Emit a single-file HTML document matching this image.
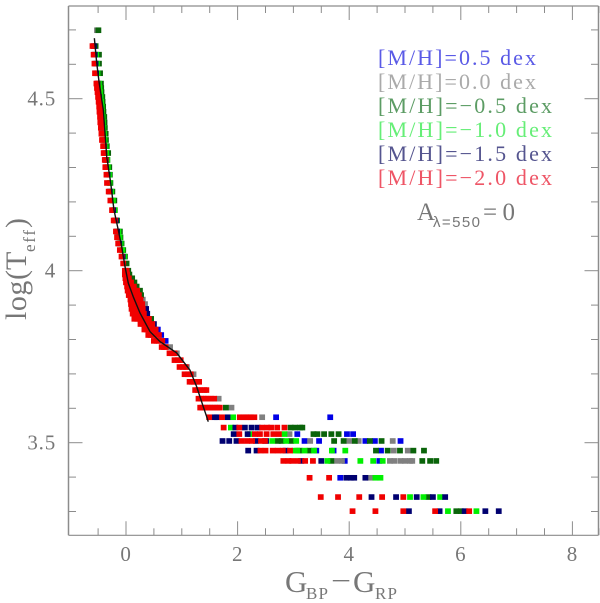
<!DOCTYPE html>
<html>
<head>
<meta charset="utf-8">
<title>log(Teff) vs colour</title>
<style>
html,body{margin:0;padding:0;background:#fff;width:600px;height:603px;overflow:hidden}
svg{display:block}
text{font-family:"Liberation Serif",serif}
</style>
</head>
<body>
<svg id="chart" width="600" height="603" viewBox="0 0 600 603" xmlns="http://www.w3.org/2000/svg">
<g id="marks"></g>
<g id="isochrone"></g>
<g id="axes"></g>
<g id="ticklabels" font-size="21" fill="#777" letter-spacing="0.8"></g>
<g fill="#777">
<text x="285" y="592" font-size="31">G</text>
<text x="306" y="599" font-size="17" textLength="22">BP</text>
<text x="331" y="590" font-size="28" textLength="20" lengthAdjust="spacingAndGlyphs">−</text>
<text x="353" y="592" font-size="31">G</text>
<text x="375" y="599" font-size="17" textLength="22">RP</text>
</g>
<g fill="#777" transform="translate(26,320) rotate(-90)">
<text x="0" y="0" font-size="30" textLength="50">log(</text>
<text x="50" y="0" font-size="30">T</text>
<text x="68" y="9" font-size="17" textLength="22">eff</text>
<text x="92" y="0" font-size="30">)</text>
</g>
<g font-size="22">
<text x="378" y="65" fill="#5a5ae6" textLength="158">[M/H]=0.5 dex</text>
<text x="378" y="89" fill="#aaaaaa" textLength="158">[M/H]=0.0 dex</text>
<text x="378" y="113" fill="#5c9c64" textLength="174">[M/H]=−0.5 dex</text>
<text x="378" y="137" fill="#66ee77" textLength="174">[M/H]=−1.0 dex</text>
<text x="378" y="161" fill="#55558f" textLength="174">[M/H]=−1.5 dex</text>
<text x="378" y="185" fill="#ee5566" textLength="174">[M/H]=−2.0 dex</text>
</g>
<g fill="#777">
<text x="417" y="220" font-size="25">A</text>
<text x="433" y="227" font-size="15" textLength="47" style="font-family:'Liberation Sans',sans-serif">λ=550</text>
<text x="483" y="220" font-size="25" textLength="32">=0</text>
</g>
</svg>
<script>
// Per-metallicity data: each row is [logTeff, colour, colour, ...]
const rowsBlue = [
[3.829,0.57],[3.813,0.63],[3.796,0.71],
[3.574,2.69,3.66],[3.525,3.07,3.96,4.07],[3.505,3.20,3.46,4.29,4.46,4.92],
[3.477,3.41,3.72,4.57],[3.447,3.92,4.54],[3.398,3.84]
];
const rowsGray = [
[4.699,-0.52],[3.903,0.34],[3.916,0.30],[3.778,0.79],[3.76,0.91],[3.72,1.09],[3.699,1.21],
[3.628,1.66],[3.602,1.89],[3.574,2.44],[3.525,2.93],[3.505,3.30,4.00,4.17,4.78],
[3.477,4.80,5.05],[3.447,3.78,3.87,4.73,4.81,4.92,5.00,5.09,5.13],[3.398,4.38]
];
const rowsGreen = [
[4.699,-0.495],[4.653,-0.545],[4.628,-0.485],[4.602,-0.485],[4.574,-0.465],[4.544,-0.45],[4.531,-0.445],[4.519,-0.44],[4.505,-0.425],[4.491,-0.42],[4.477,-0.41],[4.462,-0.405],[4.447,-0.39],[4.431,-0.385],[4.415,-0.38],[4.398,-0.365],[4.38,-0.36],[4.362,-0.345],[4.342,-0.32],[4.322,-0.335],[4.301,-0.30],[4.279,-0.29],[4.255,-0.28],[4.23,-0.245],[4.204,-0.21],[4.176,-0.20],[4.146,-0.16],[4.114,-0.11],[4.097,-0.10],[4.079,-0.08],[4.06,-0.05],[4.041,-0.02],[4.021,0.01],[4.0,0.04],[3.989,0.06],[3.978,0.11],[3.966,0.15],[3.954,0.19],[3.942,0.25],[3.929,0.27],[3.86,0.45],
[3.602,1.79],[3.544,2.95,3.03,3.12,3.16],[3.525,3.36,3.43,3.55,3.68,3.81],
[3.505,2.72,2.79,2.96,3.73,3.90,4.10,4.37,4.58],
[3.477,3.11,3.29,4.48,4.69,4.91,5.15,5.34],[3.447,3.68,5.31,5.45,5.56],
[3.342,5.42],[3.301,5.92,6.00]
];
const rowsLime = [
[4.628,-0.535],[4.602,-0.52],[4.574,-0.51],[4.544,-0.485],[4.531,-0.475],[4.519,-0.465],[4.505,-0.455],[4.491,-0.445],[4.477,-0.435],[4.462,-0.43],[4.447,-0.42],[4.431,-0.415],[4.415,-0.405],[4.398,-0.395],[4.38,-0.385],[4.362,-0.365],[4.342,-0.355],[4.322,-0.335],[4.301,-0.325],[4.279,-0.305],[4.255,-0.295],[4.23,-0.265],[4.204,-0.235],[4.176,-0.205],[4.146,-0.175],[4.114,-0.135],[4.097,-0.115],[4.079,-0.095],[4.06,-0.065],[4.041,-0.035],
[3.574,1.92],[3.544,1.88],[3.525,2.22,2.84],[3.505,2.62,2.87,3.05],
[3.477,3.02,3.07,3.20,3.37,3.69,3.93],[3.447,3.61,4.20,4.43,4.60],[3.398,4.47,4.56],
[3.342,5.09,5.33,5.63],[3.301,5.77,6.28]
];
const rowsNavy = [
[4.653,-0.575],[4.628,-0.56],[4.602,-0.545],[4.574,-0.535],[4.544,-0.51],[4.505,-0.48],[4.462,-0.455],[4.415,-0.43],[4.362,-0.39],[4.322,-0.36],[4.279,-0.33],[4.23,-0.29],[4.176,-0.23],[4.146,-0.18],[4.114,-0.16],[4.079,-0.12],[4.041,-0.06],
[3.889,0.36],[3.875,0.38],[3.845,0.50],
[3.574,1.59,1.63,1.82],[3.544,1.96,2.13,2.25,2.36],[3.525,1.93,2.18],
[3.505,1.73,1.85,1.98,2.33,2.51],[3.477,2.19,2.34,2.86],[3.447,3.14,3.50],
[3.398,3.95,4.03,4.09,4.29],[3.342,4.40,4.84,5.21,5.50,5.72],[3.301,5.07,5.62,6.07,6.44,6.68]
];
const rowsRed = [
[4.653,-0.60],[4.628,-0.58],[4.602,-0.565],[4.574,-0.555],[4.544,-0.53,-0.515],[4.531,-0.52,-0.505],[4.519,-0.51,-0.495],[4.505,-0.50,-0.485],[4.491,-0.49,-0.475],[4.477,-0.48,-0.465],[4.462,-0.475,-0.46],[4.447,-0.465,-0.45],[4.431,-0.46,-0.445],[4.415,-0.45,-0.435],[4.398,-0.44,-0.425],[4.38,-0.43,-0.415],[4.362,-0.41,-0.395],[4.342,-0.40,-0.385],[4.322,-0.38,-0.365],[4.301,-0.37,-0.355],[4.279,-0.35],[4.255,-0.34],[4.23,-0.31],[4.204,-0.28],[4.176,-0.25],[4.146,-0.22,-0.20],[4.114,-0.18],[4.097,-0.16],[4.079,-0.14],[4.06,-0.11],[4.041,-0.08],[4.021,-0.05],
[4.0,-0.02,0.01],[3.989,-0.02,0.02],[3.978,-0.01,0.05],[3.966,0.00,0.05,0.09],[3.954,0.02,0.06,0.09,0.14],[3.942,0.03,0.07,0.11,0.16,0.20],[3.929,0.05,0.10,0.14,0.19,0.23],[3.916,0.08,0.12,0.16,0.21,0.26],[3.903,0.09,0.14,0.18,0.24,0.29],[3.889,0.10,0.15,0.20,0.25,0.30],[3.875,0.12,0.17,0.21,0.27,0.32],[3.86,0.15,0.20,0.25,0.30,0.36,0.41],[3.845,0.26,0.31,0.36,0.42,0.47],[3.829,0.33,0.37,0.41,0.47,0.53],[3.813,0.40,0.44,0.48,0.54,0.59],[3.796,0.50,0.55,0.59,0.65],[3.778,0.64,0.68,0.71],[3.76,0.78,0.83,0.87],[3.74,0.87,0.93,0.98],[3.72,0.96,1.02,1.07],[3.699,1.05,1.11,1.16],[3.677,1.14,1.18,1.22,1.27,1.31],[3.653,1.24,1.29,1.33,1.40,1.44],[3.628,1.30,1.35,1.39,1.43,1.47,1.53,1.58],[3.602,1.33,1.37,1.41,1.46,1.50,1.55,1.59,1.64,1.68],
[3.574,1.49,1.72,2.04,2.10,2.15,2.20,2.24,2.30],[3.544,1.75,2.03,2.44,2.53,2.60,2.71,2.84],
[3.525,2.03,2.31,2.40,2.52,2.64,2.74],[3.505,2.07,2.17,2.26,2.42,2.49],
[3.477,2.41,2.50,2.63,2.72,2.81,2.94],[3.447,2.82,2.91,2.98,3.08,3.21,3.35],
[3.398,3.29,3.64],[3.342,3.49,3.80,4.18,4.59,4.97],[3.301,4.06,4.47,4.97,5.54,6.15]
];
// Isochrone overplotted in black
const lineColour = [-0.567,-0.525,-0.483,-0.406,-0.345,-0.274,-0.215,-0.138,-0.077,-0.018,0.041,0.131,0.251,0.430,0.609,0.908,1.146,1.266,1.384,1.445,1.474];
const lineLogT = [4.676,4.604,4.549,4.467,4.331,4.255,4.176,4.118,4.070,4.012,3.964,3.924,3.877,3.823,3.794,3.761,3.711,3.663,3.605,3.576,3.561];
// Axis ticks
const xMajorTicks = [0,2,4,6,8];
const xMinorTicks = [-0.5,0.5,1,1.5,2.5,3,3.5,4.5,5,5.5,6.5,7,7.5,8.5];
const yMajorTicks = [3.5,4,4.5];
const yMinorTicks = [3.3,3.4,3.6,3.7,3.8,3.9,4.1,4.2,4.3,4.4,4.6,4.7];
const xTickLabels = ["0","2","4","6","8"];
const yTickLabels = ["3.5","4","4.5"];

const NS = "http://www.w3.org/2000/svg";
const plotLeft = 68.5, plotRight = 598.5, plotTop = 6, plotBottom = 535.3;
function xScale(v){ return 126 + 55.8 * v; }
function yScale(v){ return 98.7 + (4.5 - v) * 344; }

const marksGroup = document.getElementById("marks");
function drawSeries(rows, colour, seriesName){
  const g = document.createElementNS(NS, "g");
  
  
  g.setAttribute("fill", colour);
  rows.forEach(function(row){
    for (let i = 1; i < row.length; i++) {
      const r = document.createElementNS(NS, "rect");
      
      
      r.setAttribute("x", xScale(row[i]) - 2.9);
      r.setAttribute("y", yScale(row[0]) - 2.8);
      r.setAttribute("width", 5.8);
      r.setAttribute("height", 5.6);
      g.appendChild(r);
    }
  });
  marksGroup.appendChild(g);
}
drawSeries(rowsBlue, "#0000e6", "series-mh-0.5");
drawSeries(rowsGray, "#808080", "series-mh-0.0");
drawSeries(rowsGreen, "#0a640a", "series-mh-m0.5");
drawSeries(rowsLime, "#00f000", "series-mh-m1.0");
drawSeries(rowsNavy, "#000070", "series-mh-m1.5");
drawSeries(rowsRed, "#f00000", "series-mh-m2.0");

const lineEl = document.createElementNS(NS, "polyline");


lineEl.setAttribute("fill", "none");
lineEl.setAttribute("stroke", "#111");
lineEl.setAttribute("stroke-width", "1.4");
lineEl.setAttribute("points", lineColour.map(function(c, i){ return xScale(c) + "," + yScale(lineLogT[i]); }).join(" "));
document.getElementById("isochrone").appendChild(lineEl);

const axesGroup = document.getElementById("axes");
function addLine(x1, y1, x2, y2, w, name){
  const l = document.createElementNS(NS, "line");
  
  
  l.setAttribute("x1", x1);
  l.setAttribute("y1", y1);
  l.setAttribute("x2", x2);
  l.setAttribute("y2", y2);
  l.setAttribute("stroke", "#8c8c8c");
  l.setAttribute("stroke-width", w);
  axesGroup.appendChild(l);
}
addLine(plotLeft, plotTop, plotLeft, plotBottom, 1.5, "y-axis-left");
addLine(plotRight, plotTop, plotRight, plotBottom, 1.5, "y-axis-right");
addLine(plotLeft, plotTop, plotRight, plotTop, 1.2, "x-axis-top");
addLine(plotLeft, plotBottom, plotRight, plotBottom, 1.2, "x-axis-bottom");
xMajorTicks.forEach(function(v){
  addLine(xScale(v), plotBottom, xScale(v), plotBottom - 14, 1, "x-major-tick");
  addLine(xScale(v), plotTop, xScale(v), plotTop + 14, 1, "x-major-tick-top");
});
xMinorTicks.forEach(function(v){
  addLine(xScale(v), plotBottom, xScale(v), plotBottom - 7, 1, "x-minor-tick");
  addLine(xScale(v), plotTop, xScale(v), plotTop + 7, 1, "x-minor-tick-top");
});
yMajorTicks.forEach(function(v){
  addLine(plotLeft, yScale(v), plotLeft + 14, yScale(v), 1, "y-major-tick");
  addLine(plotRight, yScale(v), plotRight - 14, yScale(v), 1, "y-major-tick-right");
});
yMinorTicks.forEach(function(v){
  addLine(plotLeft, yScale(v), plotLeft + 7.5, yScale(v), 1, "y-minor-tick");
  addLine(plotRight, yScale(v), plotRight - 7.5, yScale(v), 1, "y-minor-tick-right");
});

const labelGroup = document.getElementById("ticklabels");
xMajorTicks.forEach(function(v, i){
  const t = document.createElementNS(NS, "text");
  
  
  t.setAttribute("x", xScale(v));
  t.setAttribute("y", 561);
  t.setAttribute("text-anchor", "middle");
  t.textContent = xTickLabels[i];
  labelGroup.appendChild(t);
});
yMajorTicks.forEach(function(v, i){
  const t = document.createElementNS(NS, "text");
  
  
  t.setAttribute("x", 56);
  t.setAttribute("y", yScale(v) + 7);
  t.setAttribute("text-anchor", "end");
  t.textContent = yTickLabels[i];
  labelGroup.appendChild(t);
});
</script>
</body>
</html>
